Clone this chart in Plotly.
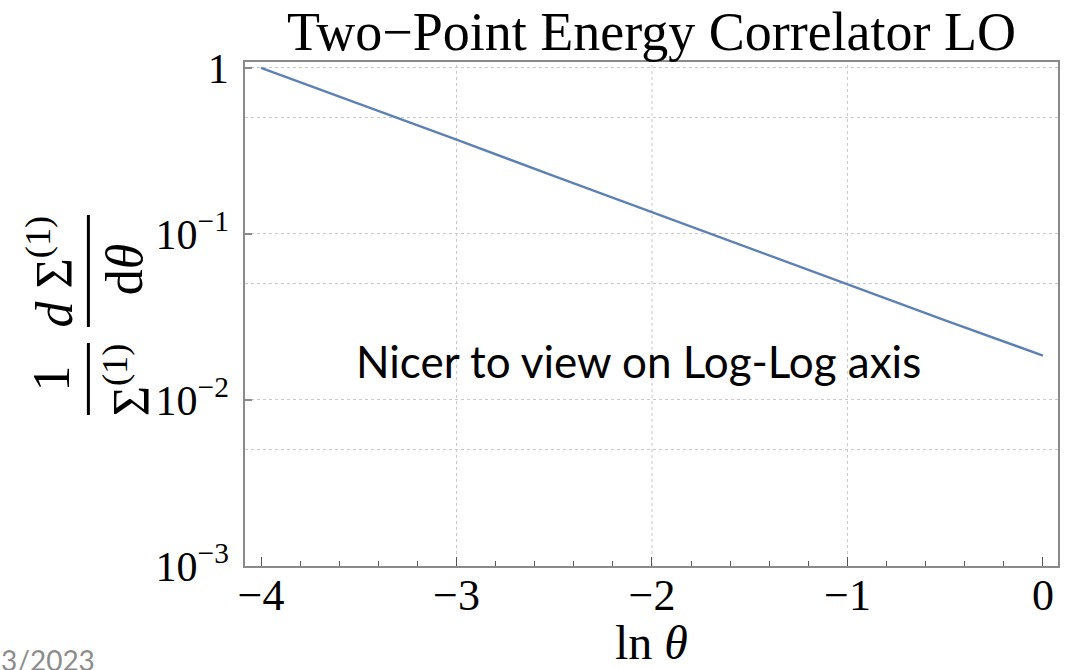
import plotly.graph_objects as go

# ---- data ----
ln_theta = [-4.0, -3.5, -3.0, -2.5, -2.0, -1.5, -1.0, -0.5, 0.0]
dsigma = [1.0, 0.61, 0.37, 0.223, 0.135, 0.082, 0.050, 0.0302, 0.0185]

x_tick_vals = [-4, -3, -2, -1, 0]
x_tick_text = ["\u22124", "\u22123", "\u22122", "\u22121", "0"]
x_grid_vals = [-3, -2, -1]
x_minor_vals = [round(-4 + 0.2 * i, 1) for i in range(21)]
y_tick_vals = [1e-3, 1e-2, 1e-1, 1]
y_tick_text = ["10<sup>\u22123</sup>", "10<sup>\u22122</sup>", "10<sup>\u22121</sup>", "1"]
y_minor_vals = [0.005, 0.05, 0.5]

title_text = "Two\u2212Point Energy Correlator LO"
note_text = "Nicer to view on Log-Log axis"
date_text = "3/2023"

# ---- layout geometry (page pixels) ----
W, H = 1068, 670
L, R, T, B = 245, 8, 62, 104
PW, PH = W - L - R, H - T - B


def px(X):
    return (X - L) / PW


def py(Y):
    return (H - B - Y) / PH


SERIF = "Liberation Serif"
GRID = "#c8c8c8"
AXIS = "#8a8a8a"

fig = go.Figure()
fig.add_trace(go.Scatter(x=ln_theta, y=dsigma, mode="lines",
                         line=dict(color="#5e81b5", width=2.4),
                         showlegend=False, hoverinfo="skip"))

for v in x_grid_vals:
    fig.add_shape(type="line", xref="x", yref="paper", x0=v, x1=v, y0=0, y1=1,
                  line=dict(color=GRID, width=1, dash="dot"), layer="below")

fig.update_xaxes(range=[-4.082, 0.077], tickmode="array", tickvals=x_tick_vals,
                 ticktext=x_tick_text, ticks="inside", ticklen=9, tickcolor="#555",
                 tickwidth=1, showgrid=False, zeroline=False, showline=True,
                 linecolor=AXIS, linewidth=1.5, mirror=True,
                 ticklabelstandoff=-11,
                 tickfont=dict(family=SERIF, size=44, color="black"),
                 minor=dict(tickmode="array", tickvals=x_minor_vals, ticks="inside",
                            ticklen=5, tickcolor="#555", showgrid=False))
fig.update_yaxes(type="log", range=[-3, 0.036], tickmode="array", tickvals=y_tick_vals,
                 ticktext=y_tick_text, ticks="inside", ticklen=7, tickcolor=AXIS,
                 tickwidth=1.5, showgrid=True, gridcolor=GRID, griddash="dot", gridwidth=1,
                 zeroline=False, showline=True, linecolor=AXIS, linewidth=1.5, mirror=True,
                 ticklabelstandoff=6,
                 tickfont=dict(family=SERIF, size=42, color="black"),
                 minor=dict(tickmode="array", tickvals=y_minor_vals, ticks="",
                            showgrid=True, gridcolor=GRID, griddash="dot", gridwidth=1))

ann = []
ann.append(dict(text=title_text, x=px(652), y=py(32), xref="paper", yref="paper",
                showarrow=False, xanchor="center", yanchor="middle",
                font=dict(family=SERIF, size=54, color="black")))
ann.append(dict(text="ln <i>\u03b8</i>", x=px(652), y=py(642), xref="paper", yref="paper",
                showarrow=False, xanchor="center", yanchor="middle",
                font=dict(family=SERIF, size=48, color="black")))
ann.append(dict(text=note_text, x=px(639), y=py(361), xref="paper", yref="paper",
                showarrow=False, xanchor="center", yanchor="middle",
                font=dict(family="Lato", size=44, color="black")))
ann.append(dict(text=date_text, x=px(-2), y=py(641), xref="paper", yref="paper",
                showarrow=False, xanchor="left", yanchor="top",
                font=dict(family="Lato", size=28, color="#8c8c8c")))
# y-axis label as two stacked fractions, rotated
lab = dict(xref="paper", yref="paper", showarrow=False, textangle=-90,
           xanchor="center", yanchor="middle", font=dict(family=SERIF, size=52, color="black"))
ann.append(dict(lab, text="1", x=px(51), y=py(378)))
ann.append(dict(lab, text="\u03a3<sup>(1)</sup>", x=px(127), y=py(380)))
ann.append(dict(lab, text="<i>d</i> \u03a3<sup>(1)</sup>", x=px(50), y=py(271)))
ann.append(dict(lab, text="d<i>\u03b8</i>", x=px(124), y=py(269)))
fig.update_layout(annotations=ann)

for (y0, y1) in [(343, 415), (215, 327)]:
    fig.add_shape(type="line", xref="paper", yref="paper", x0=px(88), x1=px(88),
                  y0=py(y0), y1=py(y1), line=dict(color="black", width=3))

fig.update_layout(width=W, height=H, margin=dict(l=L, r=R, t=T, b=B, pad=0),
                  paper_bgcolor="white", plot_bgcolor="white", showlegend=False)

fig.write_html("out.html")
